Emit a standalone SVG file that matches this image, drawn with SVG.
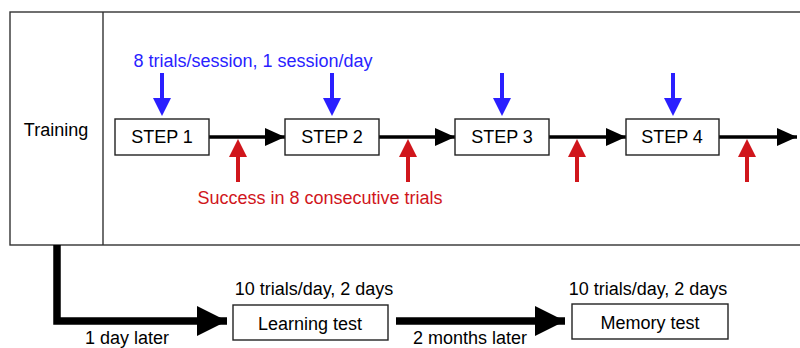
<svg xmlns="http://www.w3.org/2000/svg" width="800" height="348" viewBox="0 0 800 348">
<defs>
<style>
text{font-family:"Liberation Sans",Arial,sans-serif;font-size:18px;text-anchor:middle}
.box{fill:#fff;stroke:#222;stroke-width:1.4}
.blue{fill:#2a1fff}
.red{fill:#d0161c}
.bl{stroke:#2a1fff;stroke-width:4}
.rl{stroke:#d0161c;stroke-width:4}
.main{stroke:#000;stroke-width:3.5;fill:none}
.thick{stroke:#000;stroke-width:7.5;fill:none}
</style>
<marker id="ah" markerUnits="userSpaceOnUse" markerWidth="20" markerHeight="18" refX="20" refY="9" orient="auto"><path d="M0,0 L20,9 L0,18 Z" fill="#000"/></marker>
<marker id="ahb" markerUnits="userSpaceOnUse" markerWidth="30" markerHeight="30" refX="30" refY="15" orient="auto"><path d="M0,0 L30,15 L0,30 Z" fill="#000"/></marker>
</defs>
<g id="frame">
<rect x="10" y="12" width="795" height="233" fill="none" stroke="#333" stroke-width="1.4"/>
<line x1="103" y1="12" x2="103" y2="245" stroke="#333" stroke-width="1.4"/>
<text x="56" y="136">Training</text>
</g>
<g id="connectors">
<line class="main" x1="209" y1="137" x2="285" y2="137" marker-end="url(#ah)"/>
<line class="main" x1="379" y1="137" x2="455" y2="137" marker-end="url(#ah)"/>
<line class="main" x1="549" y1="137" x2="626" y2="137" marker-end="url(#ah)"/>
<line class="main" x1="719" y1="137" x2="797" y2="137" marker-end="url(#ah)"/>
<path class="thick" d="M57,245 V321 H227" marker-end="url(#ahb)"/>
<line class="thick" x1="396" y1="321" x2="565" y2="321" marker-end="url(#ahb)"/>
</g>
<g id="blue-arrows">
<g><line class="bl" x1="162" y1="73" x2="162" y2="100"/><path class="blue" d="M153,98 L171,98 L162,116 Z"/></g>
<g><line class="bl" x1="332" y1="73" x2="332" y2="100"/><path class="blue" d="M323,98 L341,98 L332,116 Z"/></g>
<g><line class="bl" x1="502" y1="73" x2="502" y2="100"/><path class="blue" d="M493,98 L511,98 L502,116 Z"/></g>
<g><line class="bl" x1="673" y1="73" x2="673" y2="100"/><path class="blue" d="M664,98 L682,98 L673,116 Z"/></g>
</g>
<g id="red-arrows">
<g><line class="rl" x1="238" y1="155" x2="238" y2="182"/><path class="red" d="M229,157 L247,157 L238,139 Z"/></g>
<g><line class="rl" x1="408" y1="155" x2="408" y2="182"/><path class="red" d="M399,157 L417,157 L408,139 Z"/></g>
<g><line class="rl" x1="577" y1="155" x2="577" y2="182"/><path class="red" d="M568,157 L586,157 L577,139 Z"/></g>
<g><line class="rl" x1="747" y1="155" x2="747" y2="182"/><path class="red" d="M738,157 L756,157 L747,139 Z"/></g>
</g>
<text class="blue" x="253" y="67">8 trials/session, 1 session/day</text>
<text class="red" x="320" y="204">Success in 8 consecutive trials</text>
<g id="step1"><rect class="box" x="115" y="119" width="94" height="36"/><text x="162" y="143">STEP 1</text></g>
<g id="step2"><rect class="box" x="285" y="119" width="94" height="36"/><text x="332" y="143">STEP 2</text></g>
<g id="step3"><rect class="box" x="455" y="119" width="94" height="36"/><text x="502" y="143">STEP 3</text></g>
<g id="step4"><rect class="box" x="626" y="119" width="93" height="36"/><text x="672" y="143">STEP 4</text></g>
<g id="learning"><text x="314" y="295">10 trials/day, 2 days</text><rect class="box" x="233" y="305" width="155" height="35"/><text x="310" y="330">Learning test</text></g>
<g id="memory"><text x="648" y="295">10 trials/day, 2 days</text><rect class="box" x="572" y="304" width="156" height="35"/><text x="650" y="329">Memory test</text></g>
<text x="127" y="344">1 day later</text>
<text x="470" y="344">2 months later</text>
</svg>
